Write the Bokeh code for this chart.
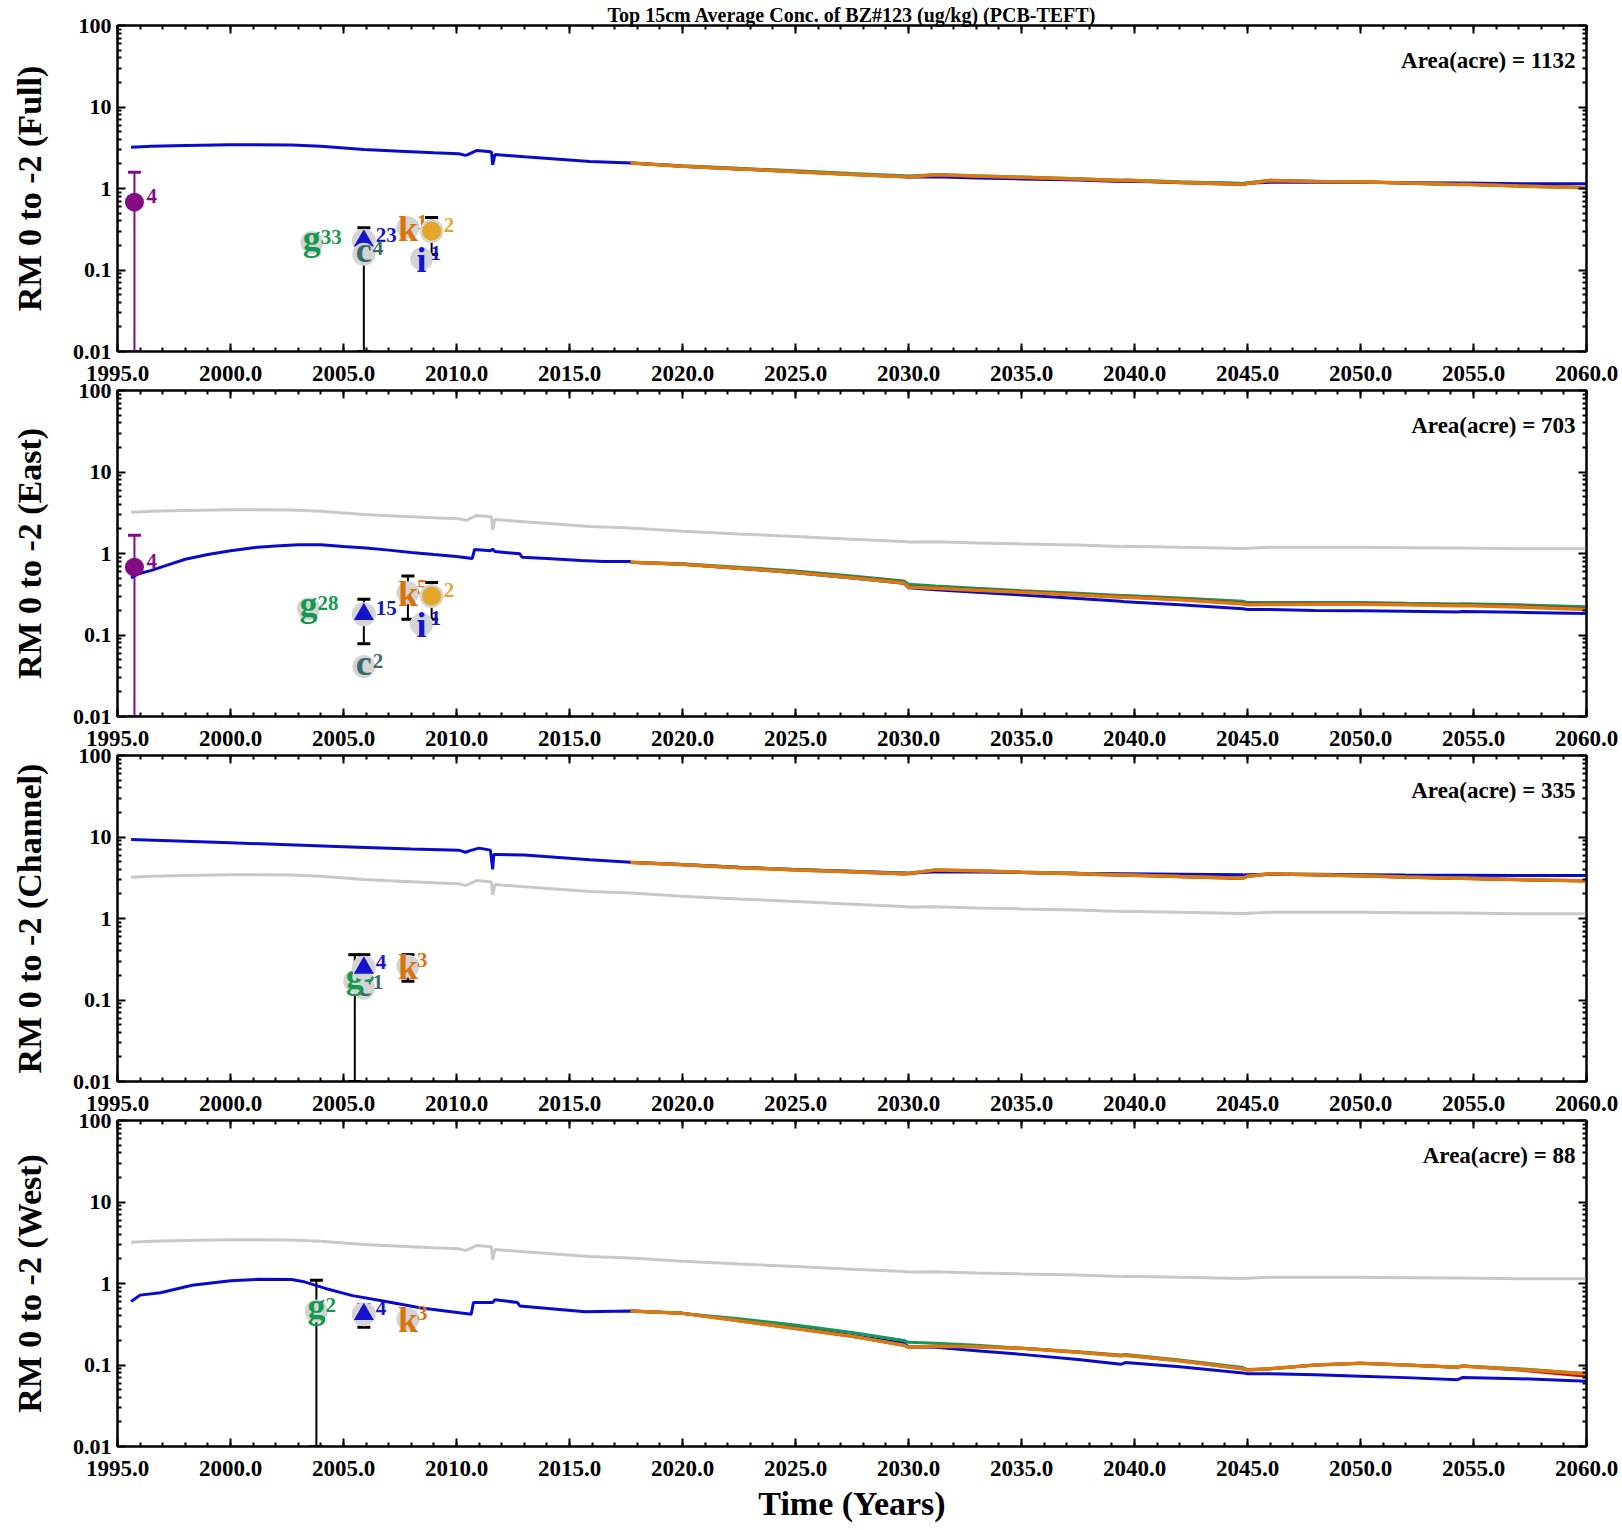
from bokeh.plotting import figure
from bokeh.layouts import column
from bokeh.models import (Range1d, FixedTicker, PrintfTickFormatter, LinearAxis, LogAxis,
                          Whisker, TeeHead, ColumnDataSource, Label)
from bokeh.core.properties import value
from bokeh.embed import file_html
from bokeh.resources import INLINE

TITLE = "Top 15cm Average Conc. of BZ#123 (ug/kg) (PCB-TEFT)"
panel_names = ["Full", "East", "Channel", "West"]
panel_areas = [1132, 703, 335, 88]
x_tick_years = list(range(1995, 2061, 5))
x_minor_years = list(range(1995, 2061))
y_ticks = [0.01, 0.1, 1, 10, 100]

# ---------------- model history (calibration) ----------------
full_hist_years = [1995.6, 1996.5, 1998.0, 2000.0, 2002.7, 2004.0, 2005.9, 2007.5, 2009.0, 2010.1,
                   2010.4, 2010.5, 2010.9, 2011.4, 2011.55, 2011.6, 2011.7, 2013.0, 2015.9, 2017.7]
full_hist = [3.2, 3.3, 3.38, 3.44, 3.42, 3.3, 3.01, 2.87, 2.75, 2.67,
             2.55, 2.6, 2.93, 2.85, 2.8, 1.95, 2.61, 2.45, 2.14, 2.05]

east_hist_years = [1995.6, 1995.9, 1996.5, 1997.2, 1998.0, 1999.0, 2000.0, 2001.0, 2002.0, 2003.0,
                   2004.0, 2005.0, 2006.0, 2007.0, 2008.0, 2009.0, 2010.0, 2010.7, 2010.8, 2011.5,
                   2011.6, 2011.7, 2012.8, 2012.9, 2014.0, 2015.5, 2016.5, 2017.7]
east_hist = [0.50, 0.56, 0.62, 0.72, 0.85, 0.97, 1.08, 1.18, 1.24, 1.28,
             1.28, 1.22, 1.17, 1.1, 1.03, 0.97, 0.92, 0.87, 1.12, 1.08,
             1.13, 1.06, 0.99, 0.9, 0.87, 0.82, 0.8, 0.8]

chan_hist_years = [1995.6, 2000.0, 2005.0, 2008.0, 2010.1, 2010.4, 2010.6, 2011.0, 2011.5, 2011.6,
                   2011.65, 2011.8, 2013.0, 2015.9, 2017.7]
chan_hist = [9.3, 8.5, 7.6, 7.1, 6.9, 6.5, 6.8, 7.3, 6.9, 4.0,
             6.1, 6.1, 6.0, 5.25, 4.9]

west_hist_years = [1995.6, 1996.0, 1996.9, 1998.3, 2000.0, 2001.3, 2002.7, 2003.2, 2004.2, 2005.4,
                   2006.75, 2008.45, 2010.65, 2010.75, 2011.6, 2011.7, 2012.7, 2012.8, 2015.7, 2017.7]
west_hist = [0.6, 0.72, 0.77, 0.95, 1.08, 1.13, 1.12, 1.06, 0.87, 0.71,
             0.61, 0.5, 0.42, 0.585, 0.585, 0.63, 0.585, 0.53, 0.45, 0.46]

# ---------------- projections (four scenarios) ----------------
proj_years = [2017.7, 2020.0, 2022.5, 2025.0, 2027.5, 2029.8, 2030.0, 2031.2, 2033.0, 2035.0,
              2037.5, 2039.4, 2039.6, 2042.0, 2044.8, 2045.0, 2046.0, 2048.0, 2050.0, 2052.0,
              2054.3, 2054.5, 2057.0, 2060.0]

full_blue = [2.05, 1.88, 1.74, 1.62, 1.5, 1.40, 1.38, 1.39, 1.35, 1.31,
             1.27, 1.22, 1.23, 1.19, 1.15, 1.16, 1.19, 1.19, 1.19, 1.18,
             1.17, 1.17, 1.14, 1.14]
full_green = [2.05, 1.90, 1.77, 1.65, 1.53, 1.43, 1.42, 1.48, 1.43, 1.38,
              1.32, 1.26, 1.27, 1.21, 1.15, 1.18, 1.26, 1.23, 1.20, 1.16,
              1.12, 1.13, 1.08, 1.03]
full_red = [2.05, 1.88, 1.74, 1.61, 1.49, 1.39, 1.38, 1.46, 1.41, 1.36,
            1.30, 1.24, 1.25, 1.18, 1.12, 1.15, 1.24, 1.22, 1.21, 1.17,
            1.12, 1.13, 1.07, 1.02]
full_orange = [2.05, 1.88, 1.74, 1.61, 1.49, 1.39, 1.38, 1.47, 1.42, 1.37,
               1.31, 1.25, 1.26, 1.19, 1.12, 1.15, 1.25, 1.22, 1.21, 1.17,
               1.12, 1.13, 1.07, 1.02]

east_blue = [0.78, 0.74, 0.66, 0.58, 0.50, 0.43, 0.38, 0.36, 0.335, 0.31,
             0.28, 0.26, 0.255, 0.235, 0.21, 0.205, 0.205, 0.20, 0.198, 0.195,
             0.192, 0.194, 0.19, 0.183]
east_green = [0.78, 0.75, 0.68, 0.61, 0.53, 0.46, 0.42, 0.40, 0.375, 0.35,
              0.325, 0.305, 0.305, 0.285, 0.26, 0.25, 0.25, 0.25, 0.25, 0.245,
              0.24, 0.242, 0.235, 0.222]
east_red = [0.78, 0.74, 0.66, 0.59, 0.51, 0.44, 0.39, 0.38, 0.36, 0.34,
            0.315, 0.295, 0.295, 0.275, 0.245, 0.24, 0.24, 0.242, 0.242, 0.238,
            0.232, 0.234, 0.225, 0.21]
east_orange = [0.78, 0.74, 0.66, 0.585, 0.505, 0.435, 0.385, 0.375, 0.355, 0.335,
               0.31, 0.29, 0.29, 0.27, 0.24, 0.235, 0.236, 0.238, 0.238, 0.235,
               0.228, 0.23, 0.22, 0.205]

chan_blue = [4.9, 4.6, 4.25, 4.0, 3.8, 3.62, 3.6, 3.75, 3.72, 3.68,
             3.6, 3.55, 3.55, 3.5, 3.43, 3.45, 3.5, 3.48, 3.45, 3.42,
             3.4, 3.4, 3.38, 3.36]
chan_green = [4.9, 4.6, 4.25, 4.0, 3.78, 3.58, 3.6, 3.95, 3.85, 3.72,
              3.58, 3.45, 3.45, 3.3, 3.15, 3.3, 3.56, 3.45, 3.35, 3.22,
              3.12, 3.12, 3.0, 2.9]
chan_red = [4.86, 4.55, 4.2, 3.95, 3.72, 3.52, 3.55, 3.92, 3.82, 3.68,
            3.52, 3.4, 3.4, 3.25, 3.1, 3.28, 3.52, 3.42, 3.32, 3.2,
            3.1, 3.1, 2.98, 2.88]
chan_orange = [4.86, 4.55, 4.2, 3.95, 3.74, 3.55, 3.57, 3.95, 3.85, 3.7,
               3.55, 3.42, 3.42, 3.27, 3.12, 3.3, 3.55, 3.45, 3.35, 3.22,
               3.12, 3.12, 3.0, 2.9]

west_blue = [0.46, 0.43, 0.36, 0.29, 0.23, 0.185, 0.168, 0.165, 0.15, 0.135,
             0.117, 0.102, 0.107, 0.095, 0.08, 0.078, 0.078, 0.076, 0.073, 0.07,
             0.066, 0.07, 0.068, 0.063]
west_green = [0.46, 0.43, 0.37, 0.31, 0.25, 0.2, 0.19, 0.185, 0.175, 0.16,
              0.145, 0.133, 0.135, 0.115, 0.093, 0.088, 0.09, 0.1, 0.105, 0.1,
              0.094, 0.097, 0.09, 0.078]
west_red = [0.46, 0.43, 0.35, 0.28, 0.225, 0.175, 0.165, 0.17, 0.168, 0.16,
            0.143, 0.13, 0.132, 0.113, 0.09, 0.087, 0.09, 0.1, 0.105, 0.1,
            0.094, 0.097, 0.087, 0.073]
west_orange = [0.46, 0.43, 0.35, 0.28, 0.225, 0.175, 0.165, 0.17, 0.168, 0.16,
               0.143, 0.13, 0.132, 0.113, 0.09, 0.087, 0.09, 0.1, 0.105, 0.1,
               0.094, 0.097, 0.088, 0.078]

# ---------------- field observations ----------------
full_obs_kind = ["purple", "g", "tri", "c", "k", "gold", "i"]
full_obs_x = [1995.75, 2003.6, 2005.9, 2005.9, 2007.85, 2008.9, 2008.45]
full_obs_y = [0.68, 0.217, 0.228, 0.156, 0.33, 0.30, 0.137]
full_obs_lo = [0.01, None, 0.155, 0.01, None, 0.155, None]
full_obs_hi = [1.58, None, 0.33, 0.2, None, 0.44, None]
full_obs_n = ["4", "33", "23", "4", "1", "2", "1"]

east_obs_kind = ["purple", "g", "tri", "c", "k", "gold", "i"]
east_obs_x = [1995.75, 2003.45, 2005.9, 2005.9, 2007.85, 2008.9, 2008.45]
east_obs_y = [0.68, 0.21, 0.18, 0.041, 0.33, 0.30, 0.135]
east_obs_lo = [0.01, None, 0.078, None, 0.156, 0.156, None]
east_obs_hi = [1.67, None, 0.275, None, 0.53, 0.44, None]
east_obs_n = ["4", "28", "15", "2", "5", "2", "1"]

chan_obs_kind = ["c", "g", "tri", "k"]
chan_obs_x = [2005.9, 2005.5, 2005.9, 2007.85]
chan_obs_y = [0.14, 0.17, 0.248, 0.26]
chan_obs_lo = [None, 0.01, 0.135, 0.17]
chan_obs_hi = [None, 0.36, 0.36, 0.36]
chan_obs_n = ["1", "3", "4", "3"]

west_obs_kind = ["g", "tri", "k"]
west_obs_x = [2003.8, 2005.9, 2007.85]
west_obs_y = [0.46, 0.42, 0.365]
west_obs_lo = [0.01, 0.29, None]
west_obs_hi = [1.1, 0.55, None]
west_obs_n = ["2", "4", "3"]

# ---------------- styles ----------------
FONT = "Liberation Serif"
C_BLUE = "#0a0acc"
C_GREEN = "#12995a"
C_RED = "#cc0a0a"
C_ORANGE = "#d97a12"
C_GRAY = "#c8c8c8"
C_HALO = "#d4d4d4"
KIND_STYLE = {
    "g": dict(letter="g", color="#15994f", dy=-5),
    "c": dict(letter="c", color="#3a6a6a", dy=-4),
    "k": dict(letter="k", color="#d9730d", dy=1),
    "i": dict(letter="i", color="#1414cc", dy=1),
    "tri": dict(marker="triangle", color="#1414cc", size=20, halo=True),
    "gold": dict(marker="circle", color="#e3a82b", size=19, halo=True),
    "purple": dict(marker="circle", color="#850a85", size=19, halo=False),
}

panels = [
    dict(hist_x=full_hist_years, hist=full_hist, blue=full_blue, green=full_green, red=full_red,
         orange=full_orange, kind=full_obs_kind, ox=full_obs_x, oy=full_obs_y, lo=full_obs_lo,
         hi=full_obs_hi, n=full_obs_n),
    dict(hist_x=east_hist_years, hist=east_hist, blue=east_blue, green=east_green, red=east_red,
         orange=east_orange, kind=east_obs_kind, ox=east_obs_x, oy=east_obs_y, lo=east_obs_lo,
         hi=east_obs_hi, n=east_obs_n),
    dict(hist_x=chan_hist_years, hist=chan_hist, blue=chan_blue, green=chan_green, red=chan_red,
         orange=chan_orange, kind=chan_obs_kind, ox=chan_obs_x, oy=chan_obs_y, lo=chan_obs_lo,
         hi=chan_obs_hi, n=chan_obs_n),
    dict(hist_x=west_hist_years, hist=west_hist, blue=west_blue, green=west_green, red=west_red,
         orange=west_orange, kind=west_obs_kind, ox=west_obs_x, oy=west_obs_y, lo=west_obs_lo,
         hi=west_obs_hi, n=west_obs_n),
]

y_minor = [m * 10.0 ** d for d in range(-2, 2) for m in range(2, 10)]


def style_axis(ax, ticks, minor, label_size):
    ax.ticker = FixedTicker(ticks=ticks, minor_ticks=minor)
    ax.axis_line_width = 2
    ax.axis_line_color = "black"
    ax.major_tick_in = 8
    ax.major_tick_out = 0
    ax.minor_tick_in = 4
    ax.minor_tick_out = 0
    ax.major_tick_line_width = 2
    ax.minor_tick_line_width = 2
    ax.major_tick_line_color = "black"
    ax.minor_tick_line_color = "black"
    ax.major_label_text_font = FONT
    ax.major_label_text_font_style = "bold"
    if label_size:
        ax.major_label_text_font_size = label_size
        ax.major_label_text_color = "black"
    else:
        # tick marks only (mirror axis): labels are not painted
        ax.major_label_text_font_size = "1px"
        ax.major_label_text_color = None
        ax.major_label_standoff = 0


FRAME_H = 326
TOP = 25
MID_BOTTOM = 42
PERIOD = 365
figs = []
for idx, (name, area, pd_) in enumerate(zip(panel_names, panel_areas, panels)):
    bottom = 83 if idx == 3 else MID_BOTTOM
    overlap = (TOP + FRAME_H + MID_BOTTOM) - PERIOD
    p = figure(width=1620, height=TOP + FRAME_H + bottom,
               x_range=Range1d(1995, 2060), y_range=Range1d(0.01, 100),
               y_axis_type="log", output_backend="svg", toolbar_location=None,
               min_border_left=117, min_border_right=34,
               min_border_top=TOP, min_border_bottom=bottom,
               margin=(0 if idx == 0 else -overlap, 0, 0, 0))
    p.grid.visible = False
    p.outline_line_color = "black"
    p.outline_line_width = 2
    p.background_fill_color = "white"
    p.border_fill_alpha = 0

    xa = p.xaxis[0]
    style_axis(xa, x_tick_years, x_minor_years, "23px")
    xa.formatter = PrintfTickFormatter(format="%.1f")
    xa.major_label_standoff = 14
    ya = p.yaxis[0]
    style_axis(ya, y_ticks, y_minor, "22px")
    ya.formatter = PrintfTickFormatter(format="%g")
    ya.major_label_standoff = 6
    ya.axis_label = f"RM 0 to -2 ({name})"
    ya.axis_label_text_font = FONT
    ya.axis_label_text_font_style = "bold"
    ya.axis_label_text_font_size = "34px"
    ya.axis_label_text_color = "black"
    ya.axis_label_standoff = 22

    ax_top = LinearAxis()
    style_axis(ax_top, x_tick_years, x_minor_years, None)
    if idx == 0:
        ax_top.axis_label = TITLE
        ax_top.axis_label_text_font = FONT
        ax_top.axis_label_text_font_style = "bold"
        ax_top.axis_label_text_font_size = "20px"
        ax_top.axis_label_text_color = "black"
        ax_top.axis_label_standoff = 0
    p.add_layout(ax_top, "above")
    ax_right = LogAxis()
    style_axis(ax_right, y_ticks, y_minor, None)
    p.add_layout(ax_right, "right")

    if idx == 3:
        xa.axis_label = "Time (Years)"
        xa.axis_label_text_font = FONT
        xa.axis_label_text_font_style = "bold"
        xa.axis_label_text_font_size = "34px"
        xa.axis_label_text_color = "black"
        xa.axis_label_standoff = 6

    # lines
    if idx > 0:
        p.line(full_hist_years + proj_years, full_hist + full_blue,
               line_color=C_GRAY, line_width=3)
    p.line(pd_["hist_x"] + proj_years, pd_["hist"] + pd_["blue"], line_color=C_BLUE, line_width=3)
    p.line(proj_years, pd_["green"], line_color=C_GREEN, line_width=3)
    p.line(proj_years, pd_["red"], line_color=C_RED, line_width=3)
    p.line(proj_years, pd_["orange"], line_color=C_ORANGE, line_width=3.5)

    # error bars
    for k, x, lo, hi in zip(pd_["kind"], pd_["ox"], pd_["lo"], pd_["hi"]):
        if lo is None:
            continue
        col = KIND_STYLE["purple"]["color"] if k == "purple" else "black"
        src = ColumnDataSource(dict(base=[x], lower=[lo], upper=[hi]))
        w = Whisker(source=src, base="base", lower="lower", upper="upper", dimension="height",
                    line_color=col, line_width=2,
                    upper_head=TeeHead(size=13, line_color=col, line_width=3),
                    lower_head=TeeHead(size=13, line_color=col, line_width=3))
        p.add_layout(w)

    # observation markers
    for k, x, y, n in zip(pd_["kind"], pd_["ox"], pd_["oy"], pd_["n"]):
        st = KIND_STYLE[k]
        if "letter" in st:
            p.scatter([x], [y], marker="circle", size=23, fill_color=C_HALO, line_color=None)
            p.text([x], [y], text=[st["letter"]], text_font=value(FONT), text_font_style="bold",
                   text_font_size="36px", text_color=st["color"], text_align="center",
                   text_baseline="middle", y_offset=st["dy"])
            xo = 9
        else:
            if st["halo"]:
                p.scatter([x], [y], marker="circle", size=24, fill_color=C_HALO, line_color=None)
            p.scatter([x], [y], marker=st["marker"], size=st["size"], fill_color=st["color"],
                      line_color=None)
            xo = 12
        p.text([x], [y], text=[n], text_font=value(FONT), text_font_style="bold",
               text_font_size="21px", text_color=st["color"], text_align="left",
               text_baseline="middle", x_offset=xo, y_offset=-6)

    p.add_layout(Label(x=2060, y=37, x_offset=-11, text=f"Area(acre) = {area}",
                       text_font=FONT, text_font_style="bold", text_font_size="23px",
                       text_color="black", text_align="right", text_baseline="middle"))
    figs.append(p)

layout = column(*figs, spacing=0)
open("out.html", "w").write(file_html(layout, INLINE))
